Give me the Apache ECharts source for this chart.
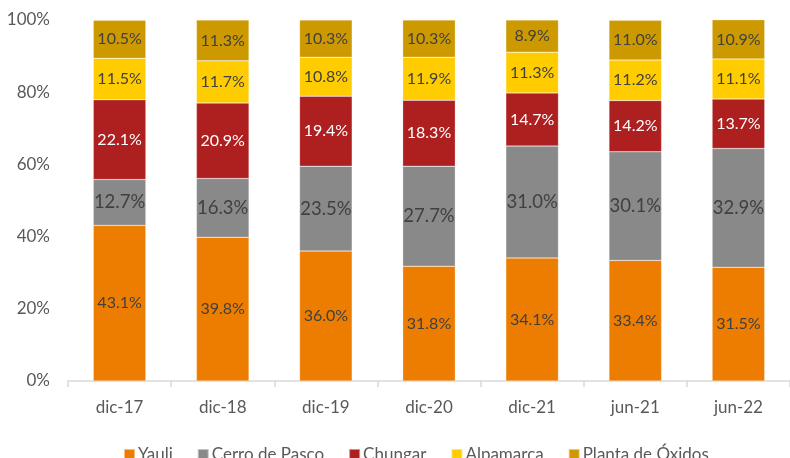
<!DOCTYPE html>
<html><head><meta charset="utf-8">
<script src="https://cdn.jsdelivr.net/npm/echarts@6/dist/echarts.min.js"></script>
<style>html,body{margin:0;padding:0;background:#fff}#c{width:790px;height:458px}</style>
</head><body><div id="c"></div>
<script>
var categories = ['dic-17','dic-18','dic-19','dic-20','dic-21','jun-21','jun-22'];
var yauli = [43.1, 39.8, 36.0, 31.8, 34.1, 33.4, 31.5];
var cerroDePasco = [12.7, 16.3, 23.5, 27.7, 31.0, 30.1, 32.9];
var chungar = [22.1, 20.9, 19.4, 18.3, 14.7, 14.2, 13.7];
var alpamarca = [11.5, 11.7, 10.8, 11.9, 11.3, 11.2, 11.1];
var plantaOxidos = [10.5, 11.3, 10.3, 10.3, 8.9, 11.0, 10.9];
var yTicks = [0, 20, 40, 60, 80, 100];

var font = 'Lato, "Open Sans", sans-serif';
function mk(name, data, color, labelColor, fs) {
  return {
    name: name, type: 'bar', stack: 'a', data: data, barWidth: '51%',
    itemStyle: {color: color, borderColor: 'rgba(255,255,255,0.5)', borderWidth: 0.5},
    label: {show: true, position: 'inside', color: labelColor, fontFamily: font, fontSize: fs,
      formatter: function(p){ return p.value.toFixed(1) + '%'; }}
  };
}
var chart = echarts.init(document.getElementById('c'));
chart.setOption({
  animation: false,
  grid: {left: 68, top: 20, width: 728, height: 361},
  legend: {top: 441, left: 118, itemWidth: 11, itemHeight: 11, itemGap: 24, icon: 'rect',
    textStyle: {color: '#595959', fontFamily: font, fontSize: 17, lineHeight: 15, padding: [0,0,0,-2]}},
  xAxis: {type: 'category', data: categories,
    axisLine: {lineStyle: {color: '#d9d9d9', width: 1.5}},
    axisTick: {show: true, length: 6, lineStyle: {color: '#d9d9d9', width: 1.5}},
    axisLabel: {color: '#595959', fontFamily: font, fontSize: 17, margin: 18}},
  yAxis: {type: 'value', min: 0, max: 100, interval: 20,
    splitLine: {show: false}, axisLine: {show: false}, axisTick: {show: false},
    axisLabel: {color: '#595959', fontFamily: font, fontSize: 17, margin: 18,
      formatter: function(v){ return yTicks.indexOf(v) >= 0 ? v + '%' : ''; }}},
  series: [
    mk('Yauli', yauli, '#ED7D00', '#404040', 16),
    mk('Cerro de Pasco', cerroDePasco, '#898989', '#404040', 18.5),
    mk('Chungar', chungar, '#AE1F1F', '#ffffff', 16),
    mk('Alpamarca', alpamarca, '#FFCC00', '#404040', 16),
    mk('Planta de Óxidos', plantaOxidos, '#CC9900', '#404040', 16)
  ]
});
</script></body></html>
